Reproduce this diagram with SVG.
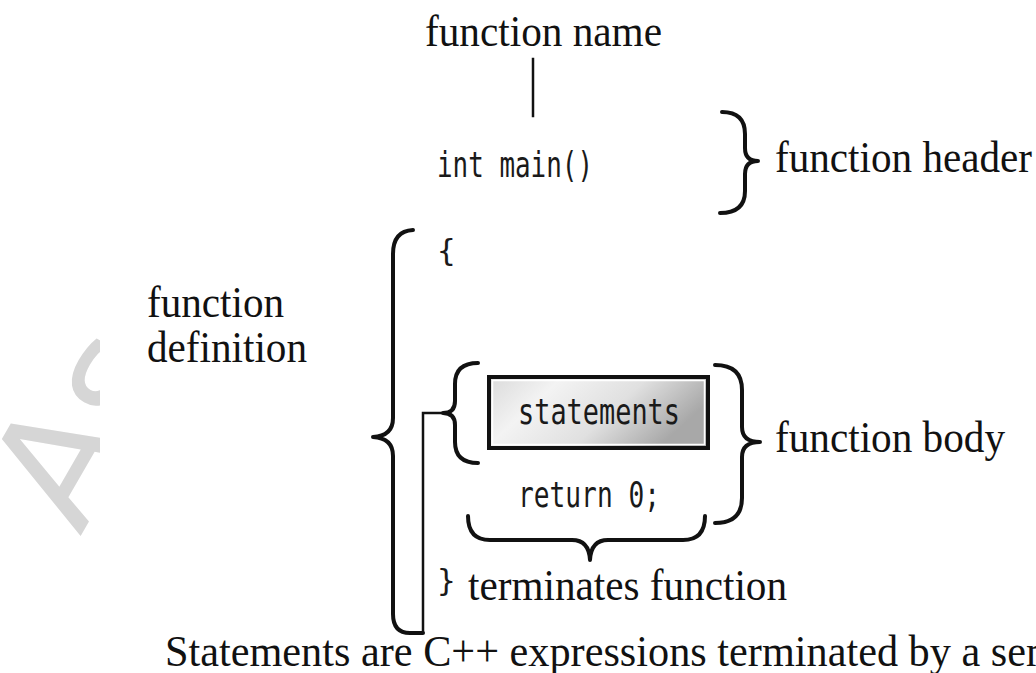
<svg xmlns="http://www.w3.org/2000/svg" width="1036" height="673" viewBox="0 0 1036 673">
  <defs>
    <style>
      .label { font-family: "Liberation Serif", "Times New Roman", serif; font-size: 44px; fill: #111; }
      .code { font-family: "DejaVu Sans Mono", "Liberation Mono", monospace; font-size: 35px; fill: #1a1a1a; }
      .brace { fill: none; stroke: #111; stroke-width: 4; stroke-linecap: round; stroke-linejoin: round; }
      .rule { fill: none; stroke: #111; stroke-width: 2.5; stroke-linecap: square; }
      .mark { font-family: "DejaVu Sans", sans-serif; font-size: 160px; fill: #d6d6d6; }
    </style>
    <linearGradient id="boxFill" x1="0" y1="0" x2="1" y2="0.35">
      <stop offset="0" stop-color="#dadada"/>
      <stop offset="0.3" stop-color="#f3f3f3"/>
      <stop offset="0.65" stop-color="#e0e0e0"/>
      <stop offset="1" stop-color="#a8a8a8"/>
    </linearGradient>
    <clipPath id="markClip">
      <rect x="0" y="0" width="100" height="673"/>
    </clipPath>
  </defs>

  <rect x="0" y="0" width="1036" height="673" fill="#ffffff"/>

  <!-- faint background lettering at the left edge -->
  <g id="watermark" clip-path="url(#markClip)">
    <text class="mark" transform="translate(80,537) rotate(-60)">As</text>
  </g>

  <!-- braces and leader lines -->
  <g id="connectors">
    <!-- leader from the name label down to main -->
    <line class="rule" x1="533" y1="59" x2="533" y2="116"/>
    <!-- header brace -->
    <path class="brace" d="M722,112 Q745,112 745,134 L745,148 Q745,161 758,161 Q745,161 745,174 L745,191 Q745,213 720,213"/>
    <!-- definition brace, closing into the bracket on the right -->
    <path class="brace" d="M413,230 Q393,231 393,254 L393,418 Q393,436 373,437 Q393,438 393,456 L393,614 Q393,633 410,633 L423,633"/>
    <!-- bracket from the statements brace down to the closing brace line -->
    <polyline class="rule" points="443,413 423,413 423,632"/>
    <!-- statements brace -->
    <path class="brace" d="M478,363 Q455,363 455,384 L455,401 Q455,413 443,413 Q455,413 455,425 L455,442 Q455,463 478,463"/>
    <!-- body brace -->
    <path class="brace" d="M715,365 Q742,365 742,390 L742,427 Q742,442 760,442 Q742,442 742,457 L742,498 Q742,523 715,523"/>
    <!-- terminator brace under return -->
    <path class="brace" d="M468,516 Q468,540 490,540 L572,540 Q589,540 590,560 Q591,540 608,540 L683,540 Q705,540 705,516"/>
  </g>

  <g id="node-function-name">
    <text class="label" x="425" y="46" textLength="237" lengthAdjust="spacingAndGlyphs">function name</text>
  </g>

  <g id="node-int-main">
    <text class="code" x="437" y="177" textLength="156" lengthAdjust="spacingAndGlyphs">int main()</text>
  </g>

  <g id="node-function-header">
    <text class="label" x="775" y="172" textLength="257" lengthAdjust="spacingAndGlyphs">function header</text>
  </g>

  <g id="node-open-brace">
    <text class="code" x="437" y="261" style="font-size:31px">{</text>
  </g>

  <g id="node-function-definition">
    <text class="label" x="147" y="317" textLength="137" lengthAdjust="spacingAndGlyphs">function</text>
    <text class="label" x="147" y="362" textLength="160" lengthAdjust="spacingAndGlyphs">definition</text>
  </g>

  <g id="node-statements">
    <rect x="489" y="377" width="219" height="71" fill="url(#boxFill)" stroke="#111" stroke-width="4"/>
    <rect x="492.5" y="380.5" width="212" height="64" fill="none" stroke="#ffffff" stroke-width="1.5"/>
    <text class="code" x="518" y="424" textLength="162" lengthAdjust="spacingAndGlyphs">statements</text>
  </g>

  <g id="node-return">
    <text class="code" x="518" y="507" textLength="142" lengthAdjust="spacingAndGlyphs">return 0;</text>
  </g>

  <g id="node-function-body">
    <text class="label" x="775" y="452" textLength="230" lengthAdjust="spacingAndGlyphs">function body</text>
  </g>

  <g id="node-close-brace">
    <text class="code" x="437" y="591" style="font-size:31px">}</text>
  </g>

  <g id="node-terminates">
    <text class="label" x="468" y="600" textLength="319" lengthAdjust="spacingAndGlyphs">terminates function</text>
  </g>

  <g id="node-caption">
    <text class="label" x="165" y="666" textLength="1010" lengthAdjust="spacingAndGlyphs">Statements are C++ expressions terminated by a semicolon.</text>
  </g>
</svg>
